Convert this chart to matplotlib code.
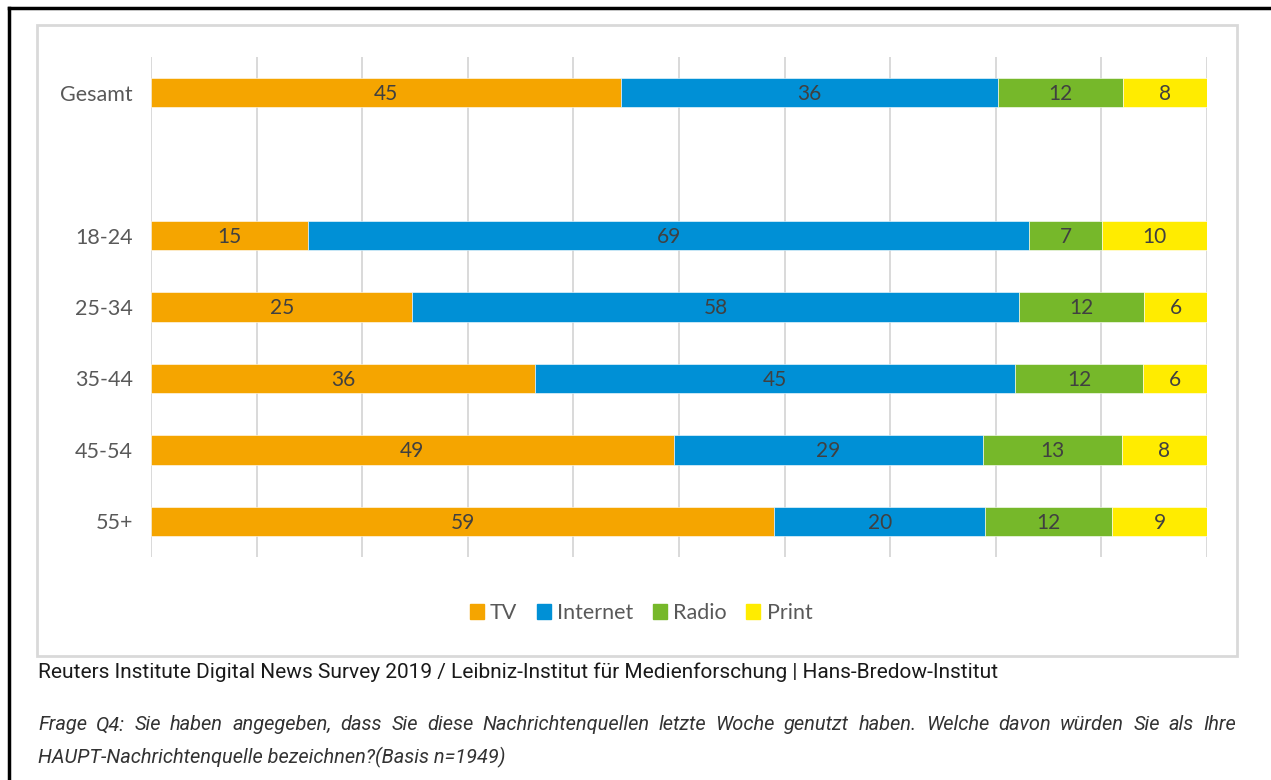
import numpy as np
import matplotlib.pyplot as plt
from matplotlib.patches import Rectangle, Patch
from matplotlib.lines import Line2D

W, H = 1271, 780

# daten
groups = ['Gesamt', '18-24', '25-34', '35-44', '45-54', '55+']
slots = [0, 2, 3, 4, 5, 6]  # leere zeile zwischen Gesamt und Altersgruppen
series = ['TV', 'Internet', 'Radio', 'Print']
tv = [45, 15, 25, 36, 49, 59]
internet = [36, 69, 58, 45, 29, 20]
radio = [12, 7, 12, 12, 13, 12]
print_ = [8, 10, 6, 6, 8, 9]
colors = ['#F5A500', '#0090D6', '#76B82A', '#FFEC00']

source = 'Reuters Institute Digital News Survey 2019 / Leibniz-Institut für Medienforschung | Hans-Bredow-Institut'
note1 = ('Frage Q4: Sie haben angegeben, dass Sie diese Nachrichtenquellen letzte Woche '
         'genutzt haben. Welche davon würden Sie als Ihre')
note2 = 'HAUPT-Nachrichtenquelle bezeichnen?(Basis n=1949)'

vals = np.array([tv, internet, radio, print_], dtype=float)
shares = vals / vals.sum(axis=0) * 100  # 100%-gestapelt

fig = plt.figure(figsize=(W / 100, H / 100), dpi=100)

def fx(px):
    return px / W

def fy(py):
    return 1 - py / H

# rahmen aussen + diagrammrahmen
fig.add_artist(Line2D([fx(9), fx(9)], [fy(8), 0], color='black', lw=2.5))
fig.add_artist(Line2D([fx(9), 1], [fy(8), fy(8)], color='black', lw=2.5))
fig.add_artist(Rectangle((fx(37), fy(656)), fx(1237) - fx(37), fy(25) - fy(656),
                         fill=False, edgecolor='#d9d9d9', lw=2, transform=fig.transFigure))

ax = fig.add_axes([fx(151), fy(557), fx(1207) - fx(151), fy(57) - fy(557)])
left = np.zeros(len(groups))
for i, name in enumerate(series):
    ax.barh(slots, shares[i], left=left, height=0.41, color=colors[i],
            edgecolor='white', linewidth=0.4, zorder=3, label=name)
    for y, l, w, v in zip(slots, left, shares[i], vals[i]):
        ax.text(l + w / 2, y + 0.02, f'{v:.0f}', ha='center', va='center',
                fontsize=15, color='#404040', family='Lato', zorder=4)
    left += shares[i]

ax.set_xlim(0, 100)
ax.set_ylim(6.5, -0.5)
ax.set_xticks(np.arange(0, 101, 10))
ax.set_xticklabels([])
ax.set_yticks(slots)
ax.set_yticklabels(groups, fontsize=15.5, color='#595959', family='Lato')
ax.tick_params(length=0, pad=13)
ax.grid(axis='x', color='#d9d9d9', lw=1.4)
ax.set_axisbelow(True)
for s in ax.spines.values():
    s.set_visible(False)

handles = [Patch(color=c, label=n) for c, n in zip(colors, series)]
fig.legend(handles=handles, loc='center', bbox_to_anchor=(fx(641), fy(613)), ncol=4,
           frameon=False, handlelength=0.65, handleheight=0.65, handletextpad=0.3,
           columnspacing=0.9, prop={'family': 'Lato', 'size': 15.5}, labelcolor='#595959')

fig.text(fx(38), fy(672), source, ha='left', va='center', fontsize=15,
         family='Roboto', color='#1a1a1a')

# blocksatz fuer die erste zeile der frage
renderer = fig.canvas.get_renderer()
words = note1.split(' ')
arts = [fig.text(0, fy(725), w, ha='left', va='center', fontsize=14.4, style='italic',
                 family='Roboto', color='#333333') for w in words]
widths = [a.get_window_extent(renderer).width for a in arts]
gap = (1236 - 38 - sum(widths)) / (len(words) - 1)
x = 38.0
for a, w in zip(arts, widths):
    a.set_x(fx(x))
    x += w + gap
fig.text(fx(38), fy(757), note2, ha='left', va='center', fontsize=14.4, style='italic',
         family='Roboto', color='#333333')

fig.savefig('out.png', dpi=100)
